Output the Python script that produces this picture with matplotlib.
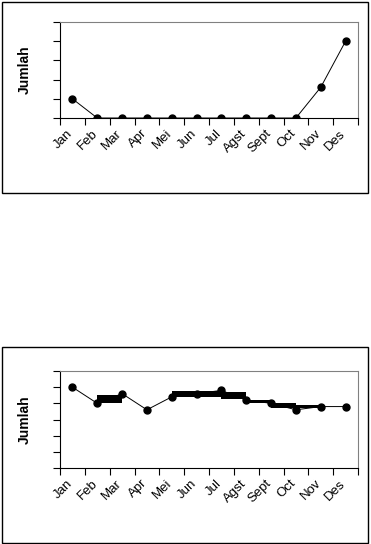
import matplotlib
matplotlib.use('Agg')
import matplotlib.pyplot as plt
from matplotlib.patches import Rectangle
from matplotlib.transforms import ScaledTranslation

plt.rcParams['font.family'] = ['Liberation Sans', 'DejaVu Sans']

bulan = ['Jan', 'Feb', 'Mar', 'Apr', 'Mei', 'Jun', 'Jul', 'Agst', 'Sept', 'Oct', 'Nov', 'Des']
jumlah_atas = [1, 0, 0, 0, 0, 0, 0, 0, 0, 0, 1.6, 4]
jumlah_bawah = [5.0, 4.0, 4.6, 3.6, 4.4, 4.6, 4.8, 4.2, 4.0, 3.6, 3.8, 3.8]
# blok tebal di grafik bawah: (bulan awal, bulan akhir, bawah, atas)
blok_bawah = [(1, 2, 4.0, 4.5), (4, 6, 4.4, 4.75), (6, 7, 4.25, 4.7),
              (7, 8, 4.0, 4.2), (8, 9, 3.7, 4.0), (9, 10, 3.72, 3.9)]

fig = plt.figure(figsize=(3.71, 5.44), dpi=100)

# kotak luar tiap grafik
fig.patches.append(Rectangle((2 / 371, 1 - 193 / 544), 366 / 371, 191 / 544,
                             transform=fig.transFigure, fill=False, ec='black', lw=1))
fig.patches.append(Rectangle((2 / 371, 1 - 543 / 544), 366 / 371, 196 / 544,
                             transform=fig.transFigure, fill=False, ec='black', lw=1))


def gambar(ax, nilai, ymax):
    x = range(len(bulan))
    ax.plot(x, nilai, color='black', lw=0.7, marker='o', ms=5, zorder=3)
    ax.set_xlim(-0.5, len(bulan) - 0.5)
    ax.set_ylim(0, ymax)
    ax.set_yticks(range(ymax + 1))
    ax.set_yticklabels([])
    ax.set_xticks([i - 0.5 for i in range(len(bulan) + 1)])
    ax.set_xticklabels([])
    ax.set_xticks(list(x), minor=True)
    ax.set_xticklabels(bulan, minor=True, rotation=45, ha='right', va='top',
                       rotation_mode='anchor', fontsize=9.5)
    ax.tick_params(axis='x', which='minor', length=0, pad=9)
    ax.tick_params(axis='both', which='major', direction='out', length=5, width=0.8)
    # label bulan sedikit digeser ke kiri dan ke atas
    geser = ScaledTranslation(-0.06, 0.03, fig.dpi_scale_trans)
    for lbl in ax.get_xticklabels(minor=True):
        lbl.set_transform(lbl.get_transform() + geser)
    ax.set_ylabel('Jumlah', fontsize=10, fontweight='bold', labelpad=12)
    ax.spines['top'].set_color('gray')
    ax.spines['right'].set_color('gray')
    for s in ['left', 'bottom']:
        ax.spines[s].set_linewidth(0.8)


ax1 = fig.add_axes([60 / 371, 1 - 118 / 544, 298 / 371, 96 / 544])
gambar(ax1, jumlah_atas, 5)

ax2 = fig.add_axes([60 / 371, 1 - 468 / 544, 298 / 371, 97 / 544])
gambar(ax2, jumlah_bawah, 6)
for a, b, lo, hi in blok_bawah:
    ax2.fill_between([a, b], [lo, lo], [hi, hi], color='black', lw=0, zorder=2)

fig.savefig('out.png', dpi=100)
